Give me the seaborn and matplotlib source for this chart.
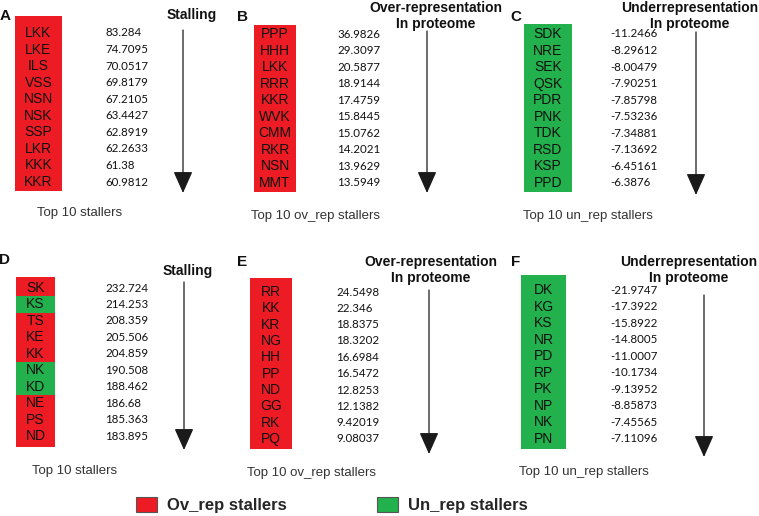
import numpy as np
import pandas as pd
import matplotlib
matplotlib.use("Agg")
import matplotlib.pyplot as plt
from matplotlib.colors import ListedColormap
from matplotlib.patches import Patch, FancyArrowPatch
import seaborn as sns


# data for each panel: codon / dipeptide codes, scores and group (ov = red, un = green)
a_codes = ["LKK", "LKE", "ILS", "VSS", "NSN", "NSK", "SSP", "LKR", "KKK", "KKR"]
a_values = ["83.284", "74.7095", "70.0517", "69.8179", "67.2105",
            "63.4427", "62.8919", "62.2633", "61.38", "60.9812"]
a_groups = ["ov"] * 10

b_codes = ["PPP", "HHH", "LKK", "RRR", "KKR", "WVK", "CMM", "RKR", "NSN", "MMT"]
b_values = ["36.9826", "29.3097", "20.5877", "18.9144", "17.4759",
            "15.8445", "15.0762", "14.2021", "13.9629", "13.5949"]
b_groups = ["ov"] * 10

c_codes = ["SDK", "NRE", "SEK", "QSK", "PDR", "PNK", "TDK", "RSD", "KSP", "PPD"]
c_values = ["-11.2466", "-8.29612", "-8.00479", "-7.90251", "-7.85798",
            "-7.53236", "-7.34881", "-7.13692", "-6.45161", "-6.3876"]
c_groups = ["un"] * 10

d_codes = ["SK", "KS", "TS", "KE", "KK", "NK", "KD", "NE", "PS", "ND"]
d_values = ["232.724", "214.253", "208.359", "205.506", "204.859",
            "190.508", "188.462", "186.68", "185.363", "183.895"]
d_groups = ["ov", "un", "ov", "ov", "ov", "un", "un", "ov", "ov", "ov"]

e_codes = ["RR", "KK", "KR", "NG", "HH", "PP", "ND", "GG", "RK", "PQ"]
e_values = ["24.5498", "22.346", "18.8375", "18.3202", "16.6984",
            "16.5472", "12.8253", "12.1382", "9.42019", "9.08037"]
e_groups = ["ov"] * 10

f_codes = ["DK", "KG", "KS", "NR", "PD", "RP", "PK", "NP", "NK", "PN"]
f_values = ["-21.9747", "-17.3922", "-15.8922", "-14.8005", "-11.0007",
            "-10.1734", "-9.13952", "-8.85873", "-7.45565", "-7.11096"]
f_groups = ["un"] * 10

RED = "#ED1C24"
GREEN = "#22B14C"
W, H = 759, 516

sns.set_theme(style="white")
plt.rcParams["font.family"] = ["Liberation Sans", "DejaVu Sans"]

fig = plt.figure(figsize=(W / 100, H / 100), dpi=100)


def fx(x):
    return x / W


def fy(y):
    return 1 - y / H


# layout in pixels: box (x0, x1, y0, y1), first/last row centre, value x,
# arrow (x, y0, y1), title lines, letter, caption
panels = [
    dict(letter="A", codes=a_codes, values=a_values, groups=a_groups,
         box=(15, 62, 16, 191), rows=(33, 182), vx=105,
         arrow=(183, 30, 193), title=[("Stalling", 192, 15)],
         lpos=(5, 16), caption="Top 10 stallers", cpos=(37, 213)),
    dict(letter="B", codes=b_codes, values=b_values, groups=b_groups,
         box=(254, 296, 25, 192), rows=(34, 183), vx=337,
         arrow=(427, 31, 193),
         title=[("Over-representation", 436, 8), ("In proteome", 436, 24)],
         lpos=(243, 17), caption="Top 10 ov_rep stallers", cpos=(251, 216)),
    dict(letter="C", codes=c_codes, values=c_values, groups=c_groups,
         box=(524, 572, 24, 192), rows=(34, 183), vx=610,
         arrow=(696, 32, 195),
         title=[("Underrepresentation", 690, 8), ("In proteome", 690, 24)],
         lpos=(516, 17), caption="Top 10 un_rep stallers", cpos=(523, 216)),
    dict(letter="D", codes=d_codes, values=d_values, groups=d_groups,
         box=(16, 55, 277, 447), rows=(288, 436), vx=105,
         arrow=(184, 282, 450), title=[("Stalling", 188, 271)],
         lpos=(5, 260), caption="Top 10 stallers", cpos=(32, 471)),
    dict(letter="E", codes=e_codes, values=e_values, groups=e_groups,
         box=(250, 292, 278, 449), rows=(292, 439), vx=336,
         arrow=(429, 290, 454),
         title=[("Over-representation", 431, 262), ("In proteome", 431, 278)],
         lpos=(242, 262), caption="Top 10 ov_rep stallers", cpos=(247, 473)),
    dict(letter="F", codes=f_codes, values=f_values, groups=f_groups,
         box=(521, 566, 275, 449), rows=(290, 439), vx=610,
         arrow=(704, 295, 457),
         title=[("Underrepresentation", 689, 262), ("In proteome", 689, 278)],
         lpos=(516, 262), caption="Top 10 un_rep stallers", cpos=(519, 472)),
]

cmap = ListedColormap([RED, GREEN])

for p in panels:
    x0, x1, y0, y1 = p["box"]
    ax = fig.add_axes([fx(x0), fy(y1), (x1 - x0) / W, (y1 - y0) / H])

    df = pd.DataFrame({"group": [0 if g == "ov" else 1 for g in p["groups"]]},
                      index=p["codes"])
    labels = np.array(p["codes"]).reshape(-1, 1)
    sns.heatmap(df, ax=ax, cmap=cmap, vmin=0, vmax=1, cbar=False,
                annot=labels, fmt="", linewidths=0,
                annot_kws=dict(color="#111111", fontsize=10,
                               family=["Liberation Sans", "DejaVu Sans"]))
    ax.set_xticks([])
    ax.set_yticks([])
    ax.set_xlabel("")
    ax.set_ylabel("")

    # stretch the y range so rows sit where they are in the box
    r0, r1 = p["rows"]
    step = (r1 - r0) / 9
    top = 0.5 - (r0 - y0) / step
    bottom = 9.5 + (y1 - r1) / step
    ax.set_ylim(bottom, top)
    ax.set_facecolor(RED if p["groups"][0] == "ov" else GREEN)
    for s in ax.spines.values():
        s.set_visible(False)

    # score column
    vx = (p["vx"] - x0) / (x1 - x0)
    for i, v in enumerate(p["values"]):
        ax.text(vx, i + 0.5, v, transform=ax.get_yaxis_transform(),
                ha="left", va="center", fontsize=8.3, color="#111111",
                family=["Lato", "DejaVu Sans"], clip_on=False)

    # arrow
    axx, ay0, ay1 = p["arrow"]
    fig.add_artist(FancyArrowPatch(
        (fx(axx), fy(ay0)), (fx(axx), fy(ay1)), transform=fig.transFigure,
        arrowstyle="-|>,head_length=1.35,head_width=0.6", mutation_scale=10,
        color="#1a1a1a", linewidth=0.9, shrinkA=0, shrinkB=0))

    for txt, tx, ty in p["title"]:
        fig.text(fx(tx), fy(ty), txt, ha="center", va="center",
                 fontsize=10, fontweight="bold", color="#111111")

    fig.text(fx(p["lpos"][0]), fy(p["lpos"][1]), p["letter"], ha="center",
             va="center", fontsize=11, fontweight="bold", color="#111111")
    fig.text(fx(p["cpos"][0]), fy(p["cpos"][1]), p["caption"], ha="left",
             va="center", fontsize=9.5, color="#333333")

# legend
handles = [Patch(facecolor=RED, edgecolor="#555555", linewidth=0.8),
           Patch(facecolor=GREEN, edgecolor="#555555", linewidth=0.8)]
fig.legend(handles, ["Ov_rep stallers", "Un_rep stallers"], ncol=2,
           loc="center", bbox_to_anchor=(fx(332), fy(505)), frameon=False,
           prop=dict(size=12, weight="bold"), handlelength=1.25,
           handleheight=1.0, handletextpad=0.6, columnspacing=5.4)

fig.savefig("out.png", dpi=100)
